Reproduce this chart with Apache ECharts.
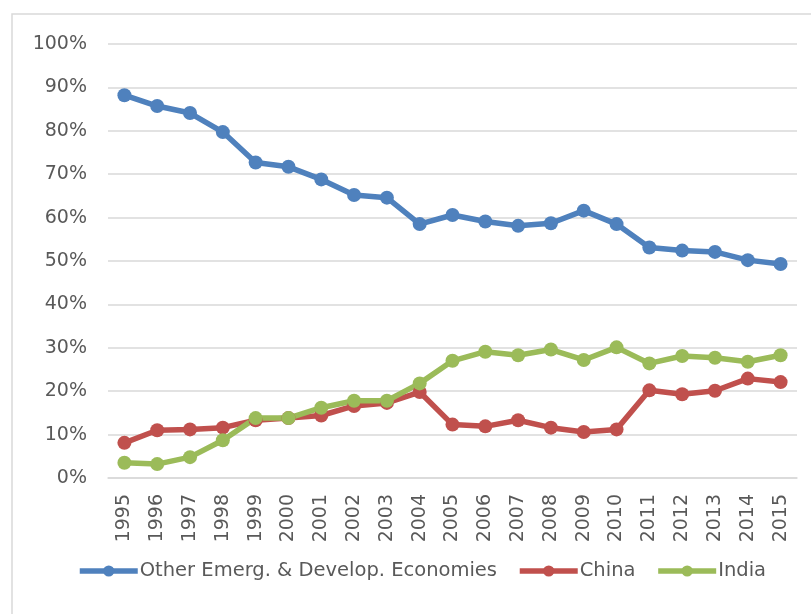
<!DOCTYPE html>
<html lang="en" style="height: 100%">
<head>
<meta charset="UTF-8">
<script src="https://cdn.jsdelivr.net/npm/echarts@6/dist/echarts.min.js"></script>
</head>
<body style="height: 100%; margin: 0; background: #fff">
<div id="container" style="width: 811px; height: 614px"></div>
<script>
var years = ['1995','1996','1997','1998','1999','2000','2001','2002','2003','2004','2005',
             '2006','2007','2008','2009','2010','2011','2012','2013','2014','2015'];
var otherEco = [88.2, 85.7, 84.1, 79.7, 72.7, 71.7, 68.8, 65.2, 64.6, 58.5, 60.6,
                59.1, 58.1, 58.7, 61.6, 58.5, 53.1, 52.4, 52.1, 50.2, 49.3];
var china = [8.1, 11.0, 11.2, 11.6, 13.3, 13.8, 14.4, 16.6, 17.3, 19.8, 12.3,
             11.9, 13.3, 11.6, 10.6, 11.2, 20.2, 19.3, 20.1, 22.9, 22.1];
var india = [3.5, 3.2, 4.8, 8.7, 13.8, 13.8, 16.2, 17.8, 17.8, 21.8, 27.0,
             29.1, 28.3, 29.6, 27.2, 30.1, 26.4, 28.1, 27.7, 26.8, 28.3];
var seriesNames = ['Other Emerg. & Develop. Economies', 'China', 'India'];
var colors = ['#4f81bd', '#c0504d', '#9bbb59'];

var myChart = echarts.init(document.getElementById('container'));
var font = 'DejaVu Sans';

function mkSeries(name, data, color) {
    return {
        name: name,
        type: 'line',
        data: data,
        symbol: 'circle',
        symbolSize: 14,
        showAllSymbol: true,
        itemStyle: { color: color },
        lineStyle: { color: color, width: 5.5 },
        animation: false
    };
}

var option = {
    backgroundColor: '#fff',
    graphic: [{
        type: 'rect',
        shape: { x: 12, y: 14, width: 830, height: 700 },
        style: { fill: 'none', stroke: '#d9d9d9', lineWidth: 1.5 },
        silent: true
    }],
    grid: { left: 108, right: 14, top: 44, bottom: 136 },
    legend: {
        data: seriesNames,
        left: 72,
        top: 556,
        itemWidth: 58,
        itemHeight: 14,
        itemGap: 20,
        lineStyle: { width: 5.5 },
        textStyle: { fontFamily: font, fontSize: 19.5, color: '#595959', padding: [0, 0, 0, -3] }
    },
    xAxis: {
        type: 'category',
        data: years,
        boundaryGap: true,
        axisLine: { lineStyle: { color: '#d9d9d9', width: 1.5 } },
        axisTick: { show: false },
        axisLabel: { rotate: 90, margin: 16, fontFamily: font, fontSize: 19, color: '#595959' }
    },
    yAxis: {
        type: 'value',
        min: 0,
        max: 100,
        interval: 10,
        axisLine: { show: false },
        axisTick: { show: false },
        splitLine: { lineStyle: { color: '#d9d9d9', width: 1.5 } },
        axisLabel: {
            margin: 21,
            fontFamily: font, fontSize: 19, color: '#595959',
            formatter: function (v) { return v + '%'; }
        }
    },
    series: [
        mkSeries(seriesNames[0], otherEco, colors[0]),
        mkSeries(seriesNames[1], china, colors[1]),
        mkSeries(seriesNames[2], india, colors[2])
    ]
};
myChart.setOption(option);
</script>
</body>
</html>
